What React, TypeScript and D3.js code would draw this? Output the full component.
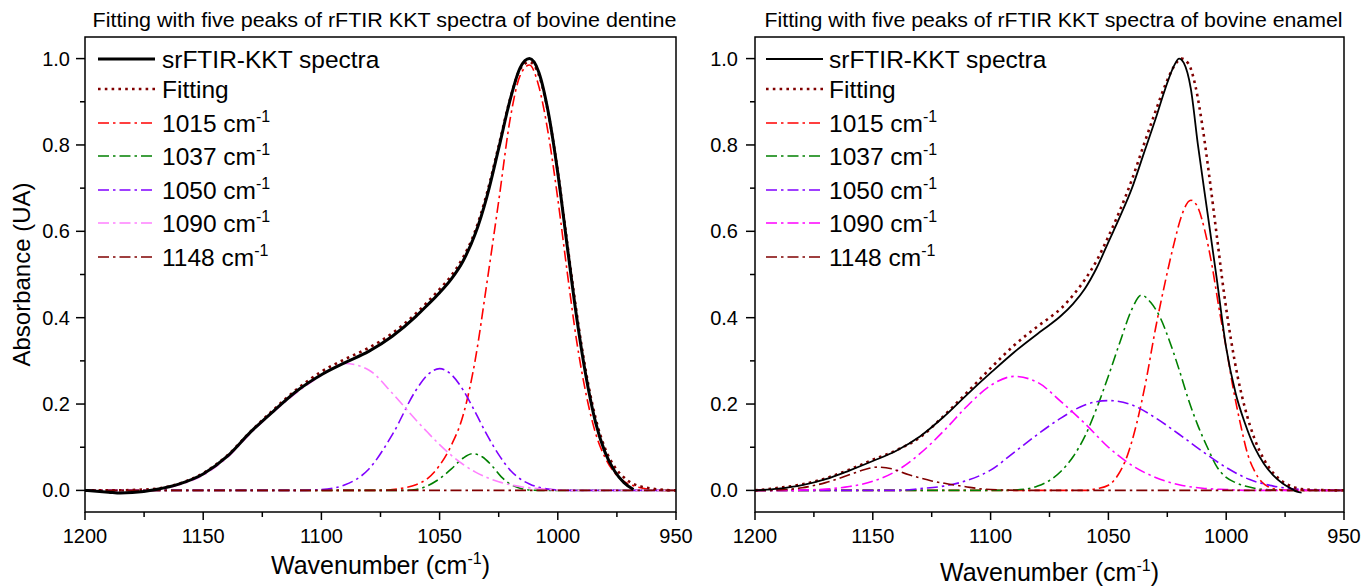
import React from 'react';
import * as d3 from 'd3';

type Pt = [number, number];

// ---------- axis / label data ----------
const X_TICKS = [1200, 1150, 1100, 1050, 1000, 950];
const X_MINOR = [1175, 1125, 1075, 1025, 975];
const Y_TICKS = [0, 0.2, 0.4, 0.6, 0.8, 1.0];
const Y_MINOR = [0.1, 0.3, 0.5, 0.7, 0.9];
const PEAK_LABELS = ['1015', '1037', '1050', '1090', '1148'];
const TITLES = [
  'Fitting with five peaks of rFTIR KKT spectra of bovine dentine',
  'Fitting with five peaks of rFTIR KKT spectra of bovine enamel',
];

// ---------- dentine (left) ----------
const dentineSpectrum: Pt[] = [
  [1200, 0], [1190, -0.004], [1185, -0.006], [1180, -0.005], [1170, 0.002], [1160, 0.015], [1150, 0.038],
  [1140, 0.078], [1130, 0.135], [1120, 0.185], [1110, 0.232], [1100, 0.268], [1090, 0.296], [1080, 0.322],
  [1070, 0.357], [1060, 0.403], [1055, 0.43], [1050, 0.458], [1045, 0.49], [1040, 0.532], [1035, 0.593],
  [1030, 0.68], [1025, 0.792], [1020, 0.908], [1016, 0.978], [1012, 1.0], [1008, 0.968], [1004, 0.875],
  [1000, 0.735], [996, 0.565], [992, 0.4], [988, 0.262], [984, 0.157], [980, 0.088], [976, 0.045],
  [972, 0.018], [968, 0.002],
];
const dentineFit: Pt[] = [
  [1200, 0], [1190, 0], [1180, 0.001], [1170, 0.004], [1160, 0.016], [1150, 0.04], [1140, 0.08], [1130, 0.136],
  [1120, 0.188], [1110, 0.236], [1100, 0.275], [1090, 0.304], [1080, 0.33], [1070, 0.364], [1060, 0.41],
  [1055, 0.437], [1050, 0.466], [1045, 0.498], [1040, 0.54], [1035, 0.6], [1030, 0.688], [1025, 0.798],
  [1020, 0.91], [1016, 0.975], [1012, 0.992], [1008, 0.962], [1004, 0.873], [1000, 0.738], [996, 0.572],
  [992, 0.41], [988, 0.272], [984, 0.167], [980, 0.097], [976, 0.055], [972, 0.03], [968, 0.015], [964, 0.008],
  [960, 0.004], [955, 0.001], [950, 0],
];
const dentine1015: Pt[] = [
  [1200, 0], [1075, 0], [1070, 0.002], [1065, 0.006], [1060, 0.013], [1055, 0.028], [1050, 0.058], [1045, 0.105],
  [1040, 0.175], [1035, 0.3], [1030, 0.48], [1025, 0.67], [1020, 0.865], [1016, 0.96], [1012, 0.985],
  [1008, 0.935], [1004, 0.825], [1000, 0.675], [996, 0.505], [992, 0.345], [988, 0.222], [984, 0.132],
  [980, 0.076], [976, 0.041], [972, 0.021], [968, 0.011], [964, 0.005], [960, 0.002], [955, 0], [950, 0],
];
const dentine1037: Pt[] = [
  [1200, 0], [1065, 0], [1060, 0.002], [1055, 0.011], [1050, 0.027], [1045, 0.05], [1040, 0.075], [1036, 0.085],
  [1032, 0.078], [1028, 0.058], [1024, 0.032], [1020, 0.014], [1016, 0.005], [1012, 0.001], [1008, 0], [950, 0],
];
const dentine1050: Pt[] = [
  [1200, 0], [1110, 0], [1100, 0.002], [1090, 0.013], [1080, 0.049], [1070, 0.129], [1060, 0.232], [1055, 0.268],
  [1050, 0.282], [1045, 0.268], [1040, 0.232], [1035, 0.182], [1030, 0.129], [1025, 0.083], [1020, 0.046],
  [1016, 0.027], [1012, 0.015], [1008, 0.007], [1004, 0.003], [1000, 0.001], [995, 0], [950, 0],
];
const dentine1090: Pt[] = [
  [1200, 0], [1180, 0], [1170, 0.002], [1160, 0.013], [1150, 0.035], [1140, 0.075], [1130, 0.132], [1120, 0.183],
  [1110, 0.228], [1100, 0.266], [1090, 0.294], [1080, 0.279], [1070, 0.225], [1060, 0.163], [1055, 0.134],
  [1050, 0.106], [1045, 0.081], [1040, 0.06], [1035, 0.043], [1030, 0.03], [1025, 0.02], [1020, 0.013],
  [1015, 0.008], [1010, 0.005], [1005, 0.003], [1000, 0.001], [995, 0], [950, 0],
];
const dentine1148: Pt[] = [[1200, 0], [950, 0]];

// ---------- enamel (right) ----------
const enamelSpectrum: Pt[] = [
  [1200, 0], [1190, 0.004], [1180, 0.012], [1170, 0.026], [1160, 0.046], [1150, 0.068], [1140, 0.092],
  [1130, 0.125], [1120, 0.17], [1110, 0.222], [1100, 0.272], [1090, 0.32], [1080, 0.363], [1075, 0.383],
  [1070, 0.405], [1065, 0.432], [1060, 0.467], [1055, 0.515], [1050, 0.575], [1045, 0.635], [1040, 0.7],
  [1035, 0.78], [1030, 0.86], [1026, 0.928], [1022, 0.985], [1020, 1.0], [1018, 0.99], [1015, 0.93],
  [1012, 0.8], [1008, 0.645], [1004, 0.49], [1000, 0.33], [996, 0.225], [992, 0.155], [988, 0.1], [984, 0.062],
  [980, 0.035], [976, 0.016], [972, 0.003], [970, -0.003], [968, -0.005],
];
const enamelFit: Pt[] = [
  [1200, 0], [1190, 0.006], [1180, 0.014], [1170, 0.028], [1160, 0.048], [1150, 0.071], [1140, 0.093],
  [1130, 0.123], [1120, 0.172], [1110, 0.227], [1100, 0.283], [1090, 0.336], [1080, 0.38], [1075, 0.4],
  [1070, 0.422], [1065, 0.452], [1060, 0.488], [1055, 0.532], [1050, 0.588], [1045, 0.65], [1040, 0.72],
  [1035, 0.8], [1030, 0.878], [1026, 0.937], [1022, 0.983], [1019, 1.0], [1016, 0.988], [1013, 0.935],
  [1010, 0.84], [1007, 0.72], [1004, 0.59], [1001, 0.46], [998, 0.35], [995, 0.26], [992, 0.19], [988, 0.12],
  [984, 0.072], [980, 0.04], [976, 0.02], [972, 0.009], [968, 0.003], [962, 0.001], [950, 0],
];
const enamel1015: Pt[] = [
  [1200, 0], [1060, 0], [1055, 0.004], [1050, 0.012], [1046, 0.035], [1042, 0.08], [1038, 0.155], [1034, 0.255],
  [1030, 0.375], [1026, 0.48], [1022, 0.575], [1019, 0.635], [1015, 0.672], [1012, 0.655], [1009, 0.6],
  [1006, 0.52], [1003, 0.42], [1000, 0.33], [997, 0.235], [994, 0.155], [991, 0.086], [988, 0.045],
  [985, 0.02], [982, 0.008], [978, 0.002], [972, 0], [950, 0],
];
const enamel1037: Pt[] = [
  [1200, 0], [1095, 0], [1085, 0.003], [1080, 0.01], [1075, 0.023], [1070, 0.045], [1065, 0.078], [1060, 0.125],
  [1055, 0.19], [1050, 0.265], [1045, 0.345], [1040, 0.42], [1036, 0.452], [1032, 0.435], [1028, 0.4],
  [1024, 0.345], [1020, 0.28], [1016, 0.21], [1012, 0.15], [1008, 0.1], [1004, 0.055], [1000, 0.03],
  [996, 0.018], [992, 0.01], [988, 0.005], [980, 0.001], [972, 0], [950, 0],
];
const enamel1050: Pt[] = [
  [1200, 0], [1140, 0], [1130, 0.004], [1120, 0.01], [1110, 0.023], [1100, 0.047], [1090, 0.088], [1080, 0.13],
  [1070, 0.168], [1060, 0.198], [1050, 0.208], [1040, 0.198], [1030, 0.168], [1020, 0.13], [1010, 0.09],
  [1000, 0.053], [990, 0.025], [980, 0.01], [970, 0.003], [960, 0], [950, 0],
];
const enamel1090: Pt[] = [
  [1200, 0], [1185, 0], [1180, 0.001], [1170, 0.003], [1160, 0.009], [1150, 0.021], [1140, 0.045], [1130, 0.085],
  [1120, 0.137], [1110, 0.195], [1100, 0.243], [1090, 0.264], [1080, 0.25], [1070, 0.205], [1060, 0.155],
  [1050, 0.1], [1040, 0.058], [1030, 0.03], [1020, 0.013], [1010, 0.005], [1000, 0.002], [990, 0], [950, 0],
];
const enamel1148: Pt[] = [
  [1200, 0], [1195, 0], [1190, 0.001], [1180, 0.006], [1170, 0.018], [1160, 0.036], [1153, 0.049], [1148, 0.054],
  [1142, 0.05], [1135, 0.037], [1130, 0.029], [1125, 0.022], [1118, 0.015], [1110, 0.008], [1103, 0.003],
  [1095, 0.001], [1085, 0], [950, 0],
];

// ---------- styles ----------
const FONT = '"Liberation Sans", Arial, sans-serif';
const DASHDOT = '11,4,2.5,4';
const DOT = '2.6,4.2';

interface Style { color: string; width: number; dash?: string; }

interface PanelProps {
  x0: number; x1: number; yTop: number; yBot: number;
  title: string; titleLen: number;
  spectrum: Pt[]; fit: Pt[]; peaks: Pt[][];
  spectrumWidth: number; peakColors: string[];
  legendX0: number; legendX1: number; legendTextX: number;
  xTitleY: number; yLabelGap: number; showYTitle: boolean;
}

const LEGEND_ROWS = [59, 89, 123, 156, 190, 223, 257];

function Panel(p: PanelProps) {
  const x = d3.scaleLinear().domain([1200, 950]).range([p.x0, p.x1]);
  const y = d3.scaleLinear().domain([-0.05, 1.05]).range([p.yBot, p.yTop]);
  const line = d3.line<Pt>().x(d => x(d[0])).y(d => y(d[1])).curve(d3.curveMonotoneX);
  const clipId = 'clip' + p.x0;

  const styles: Style[] = [
    { color: '#000000', width: p.spectrumWidth },
    { color: '#800000', width: 2.6, dash: DOT },
    ...p.peakColors.map(c => ({ color: c, width: 1.6, dash: DASHDOT })),
  ];
  const series: Pt[][] = [p.spectrum, p.fit, ...p.peaks];
  const labels = ['srFTIR-KKT spectra', 'Fitting', ...PEAK_LABELS];
  const cx = (p.x0 + p.x1) / 2;

  return (
    <g>
      <defs>
        <clipPath id={clipId}>
          <rect x={p.x0} y={p.yTop} width={p.x1 - p.x0} height={p.yBot - p.yTop} />
        </clipPath>
      </defs>
      <text x={cx + 4} y={27} fontSize={19.5} textAnchor="middle" fontFamily={FONT}
        textLength={p.titleLen} lengthAdjust="spacingAndGlyphs">{p.title}</text>

      {/* data: peaks first, then fit, then spectrum on top */}
      <g clipPath={`url(#${clipId})`}>
        {[2, 3, 4, 5, 6, 1, 0].map(i => (
          <path key={i} d={line(series[i]) || ''} fill="none" stroke={styles[i].color}
            strokeWidth={styles[i].width} strokeDasharray={styles[i].dash}
            strokeLinejoin="round" />
        ))}
      </g>

      {/* frame */}
      <rect x={p.x0} y={p.yTop} width={p.x1 - p.x0} height={p.yBot - p.yTop} fill="none" stroke="#000" strokeWidth={1.5} />

      {/* x ticks */}
      {X_TICKS.map(t => (
        <g key={'xt' + t}>
          <line x1={x(t)} x2={x(t)} y1={p.yBot} y2={p.yBot + 8} stroke="#000" strokeWidth={1.5} />
          <text x={x(t)} y={p.yBot + 31} fontSize={20} textAnchor="middle" fontFamily={FONT}>{t}</text>
        </g>
      ))}
      {X_MINOR.map(t => (
        <line key={'xm' + t} x1={x(t)} x2={x(t)} y1={p.yBot} y2={p.yBot + 5} stroke="#000" strokeWidth={1.5} />
      ))}
      {/* y ticks */}
      {Y_TICKS.map(t => (
        <g key={'yt' + t}>
          <line x1={p.x0 - 9} x2={p.x0} y1={y(t)} y2={y(t)} stroke="#000" strokeWidth={1.5} />
          <text x={p.x0 - p.yLabelGap} y={y(t) + 7} fontSize={20} textAnchor="end" fontFamily={FONT}>{t.toFixed(1)}</text>
        </g>
      ))}
      {Y_MINOR.map(t => (
        <line key={'ym' + t} x1={p.x0 - 5} x2={p.x0} y1={y(t)} y2={y(t)} stroke="#000" strokeWidth={1.5} />
      ))}

      {/* axis titles */}
      <text x={cx} y={p.xTitleY} fontSize={25} textAnchor="middle" fontFamily={FONT}>
        Wavenumber (cm<tspan dy={-10} fontSize={16}>-1</tspan><tspan dy={10}>)</tspan>
      </text>
      {p.showYTitle && (
        <text transform={`translate(30,${(p.yTop + p.yBot) / 2}) rotate(-90)`} fontSize={24}
          textAnchor="middle" fontFamily={FONT}>Absorbance (UA)</text>
      )}

      {/* legend */}
      {labels.map((lab, i) => (
        <g key={'lg' + i}>
          <line x1={p.legendX0} x2={p.legendX1} y1={LEGEND_ROWS[i]} y2={LEGEND_ROWS[i]}
            stroke={styles[i].color} strokeWidth={styles[i].width} strokeDasharray={styles[i].dash} />
          <text x={p.legendTextX} y={LEGEND_ROWS[i] + 8.5} fontSize={24.5} fontFamily={FONT}>
            {i < 2 ? lab : (
              <>
                {lab + ' cm'}
                <tspan dy={-10} fontSize={16}>-1</tspan>
              </>
            )}
          </text>
        </g>
      ))}
    </g>
  );
}

export default function App() {
  return (
    <svg width={1362} height={587} style={{ position: 'absolute', left: 0, top: 0, background: '#fff' }}>
      <rect x={0} y={0} width={1362} height={587} fill="#fff" />
      <Panel x0={85} x1={676} yTop={37} yBot={512}
        title={TITLES[0]} titleLen={584}
        spectrum={dentineSpectrum} fit={dentineFit}
        peaks={[dentine1015, dentine1037, dentine1050, dentine1090, dentine1148]}
        spectrumWidth={3} peakColors={['#FF0000', '#008000', '#8000FF', '#FF80FF', '#800000']}
        legendX0={98} legendX1={155} legendTextX={162}
        xTitleY={574} yLabelGap={15} showYTitle={true} />
      <Panel x0={755} x1={1344} yTop={37} yBot={512}
        title={TITLES[1]} titleLen={578}
        spectrum={enamelSpectrum} fit={enamelFit}
        peaks={[enamel1015, enamel1037, enamel1050, enamel1090, enamel1148]}
        spectrumWidth={1.8} peakColors={['#FF0000', '#008000', '#8000FF', '#FF00FF', '#800000']}
        legendX0={766} legendX1={823} legendTextX={829}
        xTitleY={581} yLabelGap={17} showYTitle={false} />
    </svg>
  );
}
